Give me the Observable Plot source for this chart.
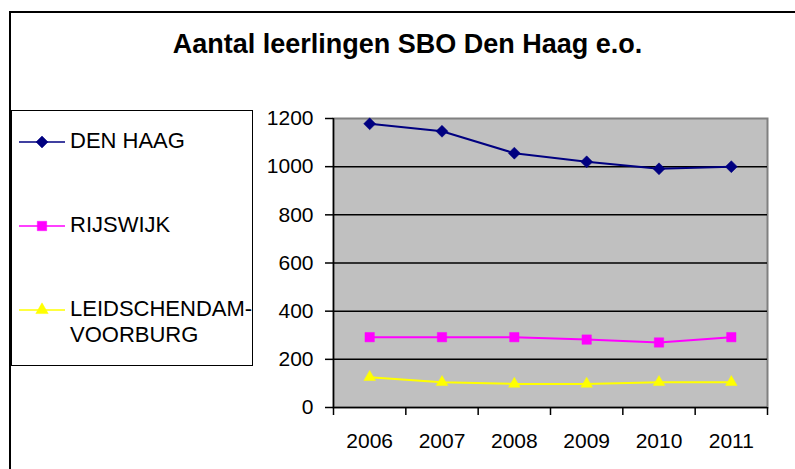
<!DOCTYPE html>
<html>
<head>
<meta charset="utf-8">
<script src="https://cdn.jsdelivr.net/npm/d3@7"></script>
<script src="https://cdn.jsdelivr.net/npm/@observablehq/plot@0.6"></script>
<style>
  html, body { margin: 0; padding: 0; background: #fff; overflow: hidden; }
  #wrap { position: relative; width: 795px; height: 469px; overflow: hidden; font-family: Arial, "Liberation Sans", sans-serif; }
  #chart { position: absolute; left: 0; top: 0; }
  #outer { position: absolute; left: 9px; top: 11px; width: 1000px; height: 1000px; border: 2px solid #000; }
  #title { position: absolute; left: 0; width: 815px; top: 29px; text-align: center; font-weight: bold; font-size: 27px; color: #000; white-space: nowrap; }
  #legend { position: absolute; left: 11px; top: 110px; width: 240px; height: 254px; border: 1px solid #000; background: #fff; }
  #legsvg { position: absolute; left: 0; top: 0; overflow: visible; }
</style>
</head>
<body>
<div id="wrap">
  <div id="outer"></div>
  <div id="title">Aantal leerlingen SBO Den Haag e.o.</div>
  <div id="legend"></div>
  <div id="chart"></div>
</div>
<script>
const years = [2006, 2007, 2008, 2009, 2010, 2011];
const seriesNames = ["DEN HAAG", "RIJSWIJK", "LEIDSCHENDAM-VOORBURG"];
const seriesColors = ["#000080", "#FF00FF", "#FFFF00"];
const seriesSymbols = ["diamond2", "square", "triangle"];
const denHaag = [1178, 1147, 1056, 1020, 991, 1000];
const rijswijk = [292, 292, 292, 282, 270, 292];
const leidschendamVoorburg = [126, 105, 98, 98, 105, 105];
const yTicks = [0, 200, 400, 600, 800, 1000, 1200];

const seriesValues = [denHaag, rijswijk, leidschendamVoorburg];
const rows = [];
seriesNames.forEach((s, i) => years.forEach((y, j) => rows.push({series: s, year: y, value: seriesValues[i][j]})));
const bounds = years.map(y => y - 0.5).concat([years[years.length - 1] + 0.5]);
const symbolR = {"diamond2": 5.4, "square": 5.3, "triangle": 4.3};

const marks = [
  Plot.frame({fill: "#C0C0C0", stroke: "#808080", strokeWidth: 2}),
  Plot.ruleY(yTicks.filter(d => d > 0 && d < 1200), {stroke: "#000", strokeWidth: 1.5}),
  Plot.ruleY([0], {stroke: "#000", strokeWidth: 1.5}),
  Plot.ruleX([bounds[0]], {stroke: "#000", strokeWidth: 1.5}),
  Plot.axisY({ticks: yTicks, tickSize: 8, tickPadding: 12, tickFormat: d => String(d), fontSize: 21, stroke: "#000", strokeWidth: 1.5}),
  Plot.axisX({ticks: bounds, tickSize: 8, tickFormat: () => "", stroke: "#000", strokeWidth: 1.5}),
  Plot.axisX({ticks: years, tickSize: 0, tickPadding: 26, tickFormat: d => String(d), fontSize: 21})
];
seriesNames.forEach((s, i) => {
  const data = rows.filter(r => r.series === s);
  marks.push(Plot.line(data, {x: "year", y: "value", stroke: seriesColors[i], strokeWidth: 2}));
  marks.push(Plot.dot(data, {x: "year", y: "value", symbol: () => seriesSymbols[i], fill: seriesColors[i], stroke: seriesColors[i], strokeWidth: 0.5, r: symbolR[seriesSymbols[i]]}));
});

const chart = Plot.plot({
  width: 795,
  height: 469,
  marginLeft: 333,
  marginRight: 28,
  marginTop: 118,
  marginBottom: 62,
  style: {fontFamily: "Arial, 'Liberation Sans', sans-serif", fontSize: "21px", color: "#000", background: "transparent", overflow: "visible"},
  x: {type: "linear", domain: [bounds[0], bounds[bounds.length - 1]], label: null},
  y: {domain: [0, 1200], label: null},
  symbol: {type: "identity"},
  marks
});
document.getElementById("chart").appendChild(chart);

// Legend
const legendRows = [
  {lines: ["DEN HAAG"], y: 31},
  {lines: ["RIJSWIJK"], y: 115},
  {lines: ["LEIDSCHENDAM-", "VOORBURG"], y: 199}
];
const svgSyms = [d3.symbolDiamond2, d3.symbolSquare, d3.symbolTriangle];
const symSize = [Math.PI * 5.4 * 5.4, Math.PI * 5.3 * 5.3, Math.PI * 4.6 * 4.6];
const leg = d3.select("#legend").append("svg").attr("id", "legsvg").attr("width", 260).attr("height", 254);
seriesNames.forEach((s, i) => {
  const r = legendRows[i];
  const g = leg.append("g");
  g.append("line").attr("x1", 7).attr("x2", 53).attr("y1", r.y).attr("y2", r.y).attr("stroke", seriesColors[i]).attr("stroke-width", 1.5);
  g.append("path").attr("d", d3.symbol(svgSyms[i], symSize[i])()).attr("transform", `translate(30,${r.y})`).attr("fill", seriesColors[i]).attr("stroke", seriesColors[i]).attr("stroke-width", 0.5);
  const t = g.append("text").attr("x", 58).attr("y", r.y - 2).attr("font-size", 22).attr("font-family", "Arial, 'Liberation Sans', sans-serif").attr("fill", "#000");
  r.lines.forEach((ln, k) => t.append("tspan").attr("x", 58).attr("dy", k === 0 ? "0.35em" : "1.2em").text(ln));
});
</script>
</body>
</html>
